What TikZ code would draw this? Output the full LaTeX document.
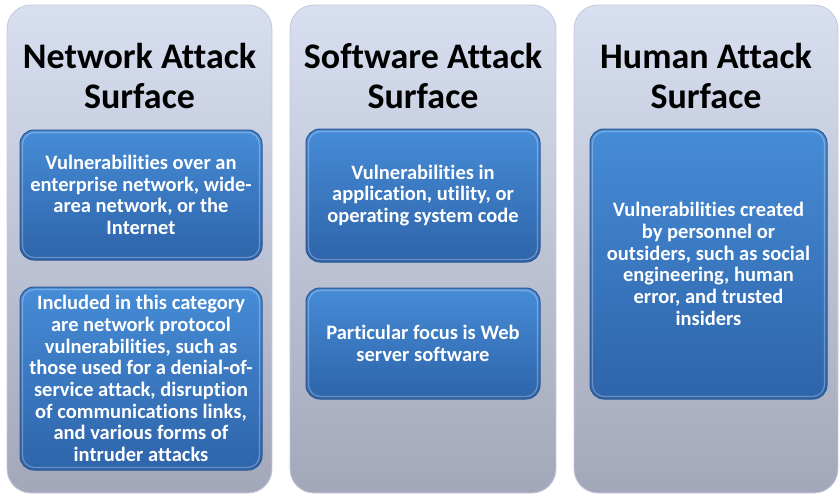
\documentclass[tikz,border=0pt]{standalone}
\usepackage{fontspec}
\setmainfont[Ligatures={NoCommon}]{Carlito}
\begin{document}
\begin{tikzpicture}[x=1pt,y=-1pt,
  column/.style={rounded corners=24pt, top color=colTop, bottom color=colBot,
    draw=colEdge, line width=0.8pt},
  heading/.style={align=center, text=black,
    font=\fontsize{36}{40}\selectfont\bfseries, inner sep=0pt},
  bluebox/.style={rounded corners=14pt, top color=boxTop, bottom color=boxBot,
    draw=boxEdge, line width=1pt, align=center, text=white, inner sep=0pt,
    font=\fontsize{20.5}{21.7}\selectfont\bfseries},
  shine/.style={rounded corners=12pt, draw=white, draw opacity=0.28, line width=1.2pt}]
\definecolor{colTop}{RGB}{216,223,240}
\definecolor{colBot}{RGB}{162,168,186}
\definecolor{colEdge}{RGB}{196,202,218}
\definecolor{boxTop}{RGB}{70,140,214}
\definecolor{boxBot}{RGB}{46,100,170}
\definecolor{boxEdge}{RGB}{42,86,148}

\useasboundingbox (0,0) rectangle (839,496);
\fill[white] (0,0) rectangle (839,496);

% three grey columns
\path[column] (7,5) rectangle (272,493);
\path[column] (290,5) rectangle (556,493);
\path[column] (574,5) rectangle (838,493);

% headings
\node[heading] (h1) at (139.5,76) {Network Attack\\Surface};
\node[heading] (h2) at (423,76) {Software Attack\\Surface};
\node[heading] (h3) at (706,76) {Human Attack\\Surface};

% network attack surface
\node[bluebox, minimum width=242pt, minimum height=130pt] (n1) at (141,195)
  {Vulnerabilities over an\\enterprise network, wide-\\area network, or the\\Internet};
\node[bluebox, minimum width=242pt, minimum height=183pt] (n2) at (141,378.5)
  {Included in this category\\are network protocol\\vulnerabilities, such as\\those used for a denial-of-\\service attack, disruption\\of communications links,\\and various forms of\\intruder attacks};

% software attack surface
\node[bluebox, minimum width=234pt, minimum height=133pt] (s1) at (423,195.5)
  {Vulnerabilities in\\application, utility, or\\operating system code};
\node[bluebox, minimum width=234pt, minimum height=111pt] (s2) at (423,343.5)
  {Particular focus is Web\\server software};

% human attack surface
\node[bluebox, minimum width=237pt, minimum height=270pt] (u1) at (708.5,264)
  {Vulnerabilities created\\by personnel or\\outsiders, such as social\\engineering, human\\error, and trusted\\insiders};

% soft highlight inside each blue box
\foreach \b in {n1,n2,s1,s2,u1}{
  \draw[shine] ([shift={(3pt,-3pt)}]\b.north west) rectangle ([shift={(-3pt,3pt)}]\b.south east);
}
\end{tikzpicture}
\end{document}
